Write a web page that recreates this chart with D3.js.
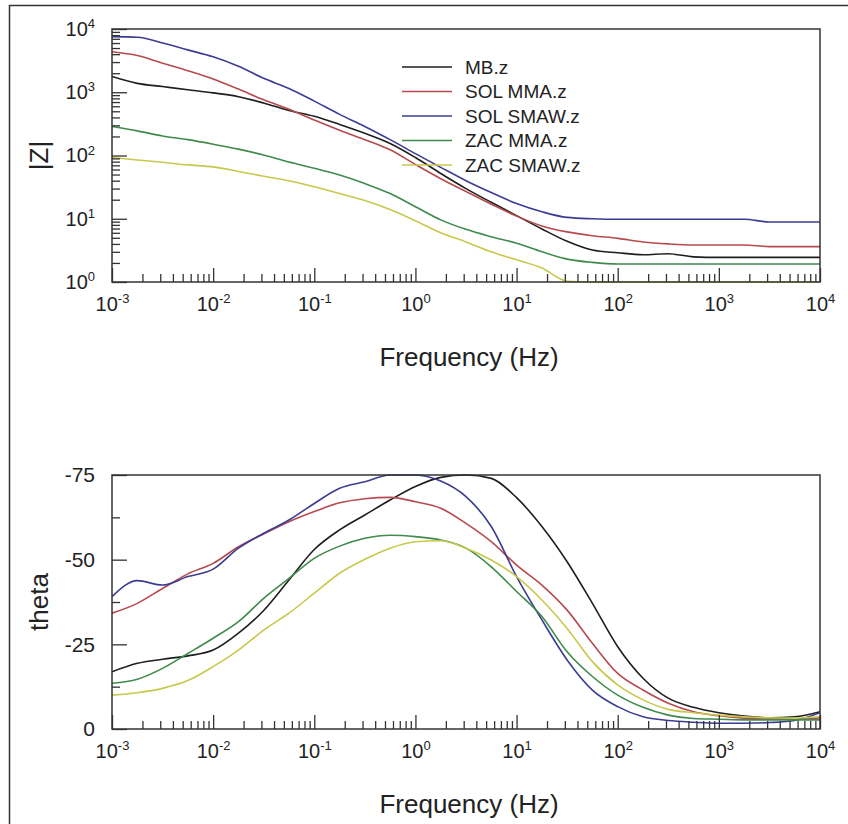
<!DOCTYPE html>
<html>
<head>
<meta charset="utf-8">
<script src="https://cdn.jsdelivr.net/npm/d3@7"></script>
<style>
  body { margin: 0; background: #fff; }
  svg text { font-family: "Liberation Sans", Arial, sans-serif; fill: #222; }
</style>
</head>
<body>
<div id="chart"></div>
<script>
const SVG_WIDTH = 848;
const SVG_HEIGHT = 824;
const TOP_BOX = { LEFT: 112, RIGHT: 820, TOP: 29, BOTTOM: 282 };    // |Z| plot
const BOT_BOX = { LEFT: 112, RIGHT: 820, TOP: 475, BOTTOM: 729 };   // theta plot

// frequency points (Hz), quarter decade
const freqs = [0.001, 0.00178, 0.00316, 0.00562, 0.01, 0.0178, 0.0316, 0.0562,
    0.1, 0.178, 0.316, 0.562, 1, 1.78, 3.16, 5.62, 10, 17.8, 31.6, 56.2,
    100, 178, 316, 562, 1000, 1780, 3160, 5620, 10000];

const seriesNames = ["MB.z", "SOL MMA.z", "SOL SMAW.z", "ZAC MMA.z", "ZAC SMAW.z"];
const seriesColors = ["#1e1e1e", "#b64a4e", "#3c3c94", "#3f8a4c", "#c8c84c"];

// |Z| values
const zMB      = [1778, 1380, 1230, 1096, 977, 851, 676, 513, 417, 309, 224, 155, 93, 52, 30, 18.2, 11.2, 6.9, 4.4, 3.2, 2.9, 2.7, 2.8, 2.5, 2.45, 2.45, 2.45, 2.45, 2.45];
const zSolMMA  = [4365, 3802, 2884, 2188, 1622, 1122, 759, 537, 363, 251, 178, 123, 72, 43, 27, 17, 11, 7.7, 6.2, 5.4, 4.9, 4.3, 4.0, 3.85, 3.85, 3.85, 3.63, 3.63, 3.63];
const zSolSMAW = [7586, 7413, 6026, 4677, 3631, 2570, 1660, 1148, 724, 447, 288, 178, 107, 65, 40, 26, 17.4, 12.9, 10.5, 10.0, 9.8, 9.8, 9.8, 9.8, 9.8, 9.8, 8.9, 8.9, 8.9];
const zZacMMA  = [288, 245, 204, 178, 151, 126, 102, 79, 63, 49, 36, 25, 15.5, 9.6, 6.8, 5.2, 4.1, 3.0, 2.3, 2.04, 1.93, 1.93, 1.93, 1.93, 1.93, 1.93, 1.93, 1.93, 1.93];
const zZacSMAW = [93, 85, 78, 71, 66, 56, 47, 40, 32, 25, 19.5, 14.0, 9.3, 6.0, 4.3, 3.0, 2.24, 1.66, 1.03, 1, 1, 1, 1, 1, 1, 1, 1, 1, 1];

// theta values (deg)
const tMB      = [-16.9, -19.4, -20.6, -21.6, -23.3, -28.3, -35.0, -44.0, -53.0, -58.8, -63.2, -67.6, -71.6, -74.3, -75, -74.0, -68.3, -59.8, -49.4, -37.1, -24.3, -15.0, -9.1, -6.4, -4.8, -3.8, -3.3, -3.6, -5.1];
const tSolMMA  = [-34.2, -37.1, -41.5, -45.8, -48.9, -53.8, -57.6, -61.2, -64.2, -66.8, -68.0, -68.4, -67.1, -65.2, -60.7, -55.3, -48.4, -42.5, -35.1, -25.3, -16.4, -11.5, -7.6, -5.1, -3.9, -3.2, -3.0, -3.0, -3.3];
const tSolSMAW = [-39.1, -43.8, -42.5, -45.0, -47.2, -53.4, -57.8, -61.7, -66.6, -71.1, -73.0, -75, -75, -73.2, -68.6, -59.8, -45.0, -32.2, -20.4, -11.5, -6.6, -3.6, -2.5, -2.0, -1.7, -1.7, -1.9, -2.5, -4.8];
const tZacMMA  = [-13.5, -14.7, -17.9, -22.3, -26.8, -31.7, -38.6, -44.5, -50.4, -54.0, -56.3, -57.2, -56.8, -55.8, -53.4, -47.9, -40.6, -33.2, -22.8, -15.5, -10.0, -6.4, -4.1, -3.1, -2.9, -2.7, -2.7, -2.7, -2.7];
const tZacSMAW = [-10.0, -10.7, -12.0, -14.3, -18.4, -23.3, -29.2, -34.2, -40.1, -46.0, -50.1, -53.4, -55.3, -55.6, -53.4, -49.9, -45.0, -38.1, -29.7, -19.9, -13.0, -8.6, -5.8, -4.8, -4.1, -3.6, -3.3, -3.2, -3.6];

const xTicks = [1e-3, 1e-2, 1e-1, 1, 10, 100, 1000, 10000];
const zTicks = [1, 10, 100, 1000, 10000];
const thetaTicks = [0, -25, -50, -75];
const thetaMinor = [-12.5, -37.5, -62.5];

const zSeries = [zMB, zSolMMA, zSolSMAW, zZacMMA, zZacSMAW];
const tSeries = [tMB, tSolMMA, tSolSMAW, tZacMMA, tZacSMAW];

// minor ticks of a log axis: 2..9 in each decade
function logMinor(lo, hi) {
    const out = [];
    for (let e = lo; e < hi; e++) {
        for (let m = 2; m <= 9; m++) out.push(m * Math.pow(10, e));
    }
    return out;
}

// "10" with superscript exponent
function powerLabel(sel) {
    sel.each(function (d) {
        const t = d3.select(this);
        const e = Math.round(Math.log10(d));
        t.text(null);
        t.append("tspan").text("10");
        t.append("tspan").attr("dy", "-0.6em").style("font-size", "13px").text(e);
    });
}

const svg = d3.select("#chart").append("svg")
    .attr("width", SVG_WIDTH)
    .attr("height", SVG_HEIGHT);

// outer frame
svg.append("rect")
    .attr("x", 9.5).attr("y", 5.5)
    .attr("width", 900).attr("height", 900)
    .attr("fill", "none").attr("stroke", "#333").attr("stroke-width", 1.5);

function drawPanel(box, yScale, values, yLabel, isLog) {
    const g = svg.append("g");
    const x = d3.scaleLog().domain([1e-3, 1e4]).range([box.LEFT, box.RIGHT]);

    const clipId = "clip" + box.TOP;
    svg.append("clipPath").attr("id", clipId).append("rect")
        .attr("x", box.LEFT).attr("y", box.TOP - 1)
        .attr("width", box.RIGHT - box.LEFT).attr("height", box.BOTTOM - box.TOP + 2);

    // lines
    const line = d3.line()
        .x((d, i) => x(freqs[i]))
        .y(d => yScale(d))
        .curve(d3.curveMonotoneX);
    g.append("g").attr("clip-path", `url(#${clipId})`)
        .selectAll("path")
        .data(values)
        .enter()
        .append("path")
        .attr("d", d => line(d))
        .attr("fill", "none")
        .attr("stroke", (d, i) => seriesColors[i])
        .attr("stroke-width", 1.6);

    // x axis, ticks inward
    g.append("g").attr("transform", `translate(0,${box.BOTTOM})`)
        .call(d3.axisBottom(x).tickValues(logMinor(-3, 4)).tickSize(-8).tickFormat(""));
    const xMajor = g.append("g").attr("transform", `translate(0,${box.BOTTOM})`)
        .call(d3.axisBottom(x).tickValues(xTicks).tickSize(-14).tickPadding(15));
    xMajor.selectAll(".tick text").style("font-size", "20px").call(powerLabel);

    // y axis
    if (isLog) {
        g.append("g").attr("transform", `translate(${box.LEFT},0)`)
            .call(d3.axisLeft(yScale).tickValues(logMinor(0, 4)).tickSize(-8).tickFormat(""));
        const yMajor = g.append("g").attr("transform", `translate(${box.LEFT},0)`)
            .call(d3.axisLeft(yScale).tickValues(zTicks).tickSize(-15).tickPadding(17));
        yMajor.selectAll(".tick text").style("font-size", "20px").call(powerLabel);
    } else {
        g.append("g").attr("transform", `translate(${box.LEFT},0)`)
            .call(d3.axisLeft(yScale).tickValues(thetaMinor).tickSize(-8).tickFormat(""));
        g.append("g").attr("transform", `translate(${box.LEFT},0)`)
            .call(d3.axisLeft(yScale).tickValues(thetaTicks).tickSize(-15).tickPadding(17).tickFormat(d => String(d)))
            .selectAll(".tick text").style("font-size", "21px");
    }
    g.selectAll(".domain").remove();
    g.selectAll(".tick line").attr("stroke", "#333").attr("stroke-width", 1.3);

    // plot frame
    g.append("rect")
        .attr("x", box.LEFT).attr("y", box.TOP)
        .attr("width", box.RIGHT - box.LEFT).attr("height", box.BOTTOM - box.TOP)
        .attr("fill", "none").attr("stroke", "#333").attr("stroke-width", 1.5);

    // axis titles
    g.append("text")
        .attr("x", (box.LEFT + box.RIGHT) / 2 + 3)
        .attr("y", box.BOTTOM + 84)
        .attr("text-anchor", "middle")
        .style("font-size", "26px")
        .text("Frequency (Hz)");
    g.append("text")
        .attr("transform", `translate(48,${(box.TOP + box.BOTTOM) / 2}) rotate(-90)`)
        .attr("text-anchor", "middle")
        .style("font-size", "26px")
        .text(yLabel);
}

const zScale = d3.scaleLog().domain([1, 1e4]).range([TOP_BOX.BOTTOM, TOP_BOX.TOP]);
const tScale = d3.scaleLinear().domain([0, -75]).range([BOT_BOX.BOTTOM, BOT_BOX.TOP]);

drawPanel(TOP_BOX, zScale, zSeries, "|Z|", true);
drawPanel(BOT_BOX, tScale, tSeries, "theta", false);

// legend
const legend = svg.append("g").selectAll("g")
    .data(seriesNames)
    .enter()
    .append("g")
    .attr("transform", (d, i) => `translate(402,${67 + i * 24.5})`);
legend.append("line")
    .attr("x1", 0).attr("x2", 50)
    .attr("stroke", (d, i) => seriesColors[i])
    .attr("stroke-width", 1.6);
legend.append("text")
    .attr("x", 63).attr("y", 6.5)
    .style("font-size", "19px")
    .text(d => d);
</script>
</body>
</html>
